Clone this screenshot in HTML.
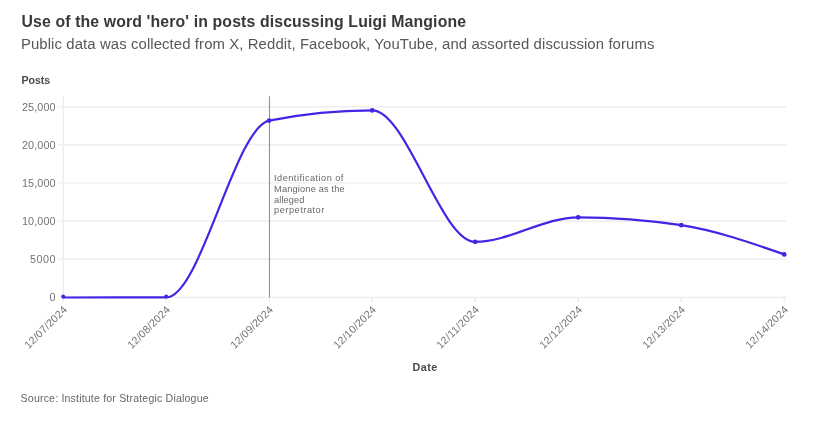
<!DOCTYPE html>
<html><head><meta charset="utf-8"><style>
html,body{margin:0;padding:0;background:#fff;width:824px;height:423px;overflow:hidden}
svg{display:block;will-change:transform}
text{font-family:"Liberation Sans",sans-serif}
</style></head><body>
<svg width="824" height="423" viewBox="0 0 824 423">
<rect width="824" height="423" fill="#fff"/>
<text x="21.5" y="26.7" font-size="15.8" font-weight="bold" fill="#383838" textLength="444.5">Use of the word 'hero' in posts discussing Luigi Mangione</text>
<text x="20.9" y="49.0" font-size="14.9" fill="#585858" textLength="633.5">Public data was collected from X, Reddit, Facebook, YouTube, and assorted discussion forums</text>
<text x="21.4" y="84.1" font-size="10.6" font-weight="bold" fill="#4a4a4a" textLength="28.8">Posts</text>
<line x1="58.5" x2="786.5" y1="297.30" y2="297.30" stroke="#ebebeb" stroke-width="1.2"/>
<line x1="58.5" x2="786.5" y1="259.20" y2="259.20" stroke="#ebebeb" stroke-width="1.2"/>
<line x1="58.5" x2="786.5" y1="221.10" y2="221.10" stroke="#ebebeb" stroke-width="1.2"/>
<line x1="58.5" x2="786.5" y1="183.00" y2="183.00" stroke="#ebebeb" stroke-width="1.2"/>
<line x1="58.5" x2="786.5" y1="144.90" y2="144.90" stroke="#ebebeb" stroke-width="1.2"/>
<line x1="58.5" x2="786.5" y1="106.80" y2="106.80" stroke="#ebebeb" stroke-width="1.2"/>

<line x1="63.3" x2="63.3" y1="96" y2="297.3" stroke="#ebebeb" stroke-width="1.2"/>
<line x1="63.20" x2="63.20" y1="297" y2="302.5" stroke="#e6e6e6" stroke-width="1.2"/>
<line x1="166.20" x2="166.20" y1="297" y2="302.5" stroke="#e6e6e6" stroke-width="1.2"/>
<line x1="269.20" x2="269.20" y1="297" y2="302.5" stroke="#e6e6e6" stroke-width="1.2"/>
<line x1="372.20" x2="372.20" y1="297" y2="302.5" stroke="#e6e6e6" stroke-width="1.2"/>
<line x1="475.20" x2="475.20" y1="297" y2="302.5" stroke="#e6e6e6" stroke-width="1.2"/>
<line x1="578.20" x2="578.20" y1="297" y2="302.5" stroke="#e6e6e6" stroke-width="1.2"/>
<line x1="681.20" x2="681.20" y1="297" y2="302.5" stroke="#e6e6e6" stroke-width="1.2"/>
<line x1="784.20" x2="784.20" y1="297" y2="302.5" stroke="#e6e6e6" stroke-width="1.2"/>

<g font-size="10.8" fill="#737373">
<text x="55.6" y="301.20" text-anchor="end" textLength="6.4">0</text>
<text x="55.6" y="263.10" text-anchor="end" textLength="25.6">5000</text>
<text x="55.6" y="225.00" text-anchor="end" textLength="33.6">10,000</text>
<text x="55.6" y="186.90" text-anchor="end" textLength="33.6">15,000</text>
<text x="55.6" y="148.80" text-anchor="end" textLength="33.6">20,000</text>
<text x="55.6" y="110.70" text-anchor="end" textLength="33.6">25,000</text>

</g>
<g font-size="10.6" fill="#737373">
<text transform="translate(65.00,307.80) rotate(-45)" text-anchor="end" dy="0.35em" textLength="55">12/07/2024</text>
<text transform="translate(168.00,307.80) rotate(-45)" text-anchor="end" dy="0.35em" textLength="55">12/08/2024</text>
<text transform="translate(271.00,307.80) rotate(-45)" text-anchor="end" dy="0.35em" textLength="55">12/09/2024</text>
<text transform="translate(374.00,307.80) rotate(-45)" text-anchor="end" dy="0.35em" textLength="55">12/10/2024</text>
<text transform="translate(477.00,307.80) rotate(-45)" text-anchor="end" dy="0.35em" textLength="55">12/11/2024</text>
<text transform="translate(580.00,307.80) rotate(-45)" text-anchor="end" dy="0.35em" textLength="55">12/12/2024</text>
<text transform="translate(683.00,307.80) rotate(-45)" text-anchor="end" dy="0.35em" textLength="55">12/13/2024</text>
<text transform="translate(786.00,307.80) rotate(-45)" text-anchor="end" dy="0.35em" textLength="55">12/14/2024</text>

</g>
<line x1="269.5" x2="269.5" y1="96.3" y2="297.3" stroke="#949494" stroke-width="1.15"/>
<g font-size="9.2" fill="#666">
<text x="274.1" y="180.9" textLength="69.3">Identification of</text>
<text x="274.1" y="191.7" textLength="70.6">Mangione as the</text>
<text x="274.1" y="202.6" textLength="30.3">alleged</text>
<text x="274.1" y="213.4" textLength="50.2">perpetrator</text>
</g>
<path d="M63.20,297.50C97.53,297.48,131.87,297.47,166.20,297.40C200.53,297.33,234.87,127.40,269.20,120.60C303.53,113.80,337.87,110.40,372.20,110.40C406.53,110.40,440.87,241.80,475.20,241.80C509.53,241.80,543.87,217.30,578.20,217.30C612.53,217.30,646.87,219.93,681.20,225.20C715.53,230.47,749.87,242.43,784.20,254.40" fill="none" stroke="#4723e6" stroke-width="2.2" stroke-linecap="round"/>
<g fill="#4723e6"><circle cx="63.20" cy="296.4" r="2.0"/><circle cx="166.20" cy="296.4" r="2.0"/><circle cx="269.20" cy="120.60" r="2.4"/><circle cx="372.20" cy="110.40" r="2.4"/><circle cx="475.20" cy="241.80" r="2.4"/><circle cx="578.20" cy="217.30" r="2.4"/><circle cx="681.20" cy="225.20" r="2.4"/><circle cx="784.20" cy="254.40" r="2.4"/></g>
<text x="412.6" y="371.3" font-size="10.8" font-weight="bold" fill="#4a4a4a" textLength="24.6">Date</text>
<text x="20.6" y="402" font-size="10.6" fill="#666" textLength="188">Source: Institute for Strategic Dialogue</text>
</svg>
</body></html>
